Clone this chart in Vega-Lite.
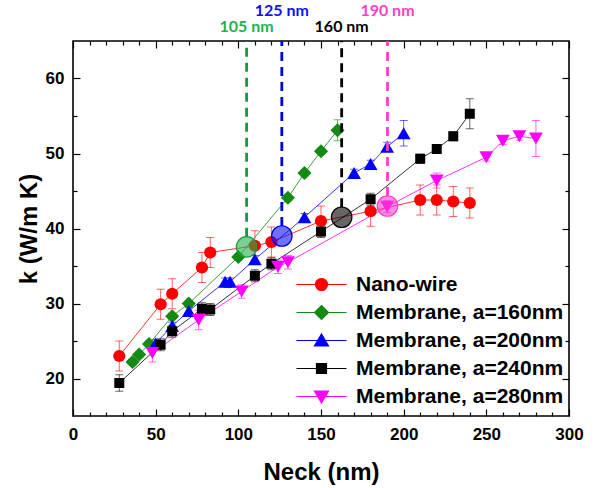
{
"$schema":"https://vega.github.io/schema/vega-lite/v6.json",
"width":496,"height":375,
"autosize":{"type":"none"},
"padding":{"left":73,"top":41,"right":30,"bottom":72},
"background":"white",
"config":{
 "view":{"stroke":"#000","strokeWidth":1.6},
 "font":"Liberation Sans",
 "axis":{"grid":false,"domain":false,"tickColor":"#000","tickWidth":1.2,"labelFont":"Liberation Sans","labelFontSize":17,"labelFontWeight":"bold","labelColor":"#000","titleFont":"Liberation Sans","titleFontSize":24,"titleFontWeight":"bold","titleColor":"#000","labelFlush":false,"labelOverlap":false}
},
"datasets":{
 "pts":[
  {"s":"Nano-wire","x":28,"k":23.0,"e":2.0},
  {"s":"Nano-wire","x":53,"k":29.9,"e":2.0},
  {"s":"Nano-wire","x":60,"k":31.3,"e":2.0},
  {"s":"Nano-wire","x":78,"k":34.8,"e":2.0},
  {"s":"Nano-wire","x":83,"k":36.8,"e":2.0},
  {"s":"Nano-wire","x":110,"k":37.7,"e":2.0},
  {"s":"Nano-wire","x":120,"k":38.2,"e":2.0},
  {"s":"Nano-wire","x":150,"k":41.0,"e":2.0},
  {"s":"Nano-wire","x":180,"k":42.3,"e":2.0},
  {"s":"Nano-wire","x":210,"k":43.8,"e":2.0},
  {"s":"Nano-wire","x":220,"k":43.8,"e":2.0},
  {"s":"Nano-wire","x":230,"k":43.6,"e":2.0},
  {"s":"Nano-wire","x":240,"k":43.4,"e":2.0},
  {"s":"Membrane, a=160nm","x":36,"k":22.2,"e":0.4},
  {"s":"Membrane, a=160nm","x":40,"k":23.2,"e":0.4},
  {"s":"Membrane, a=160nm","x":46,"k":24.6,"e":0.4},
  {"s":"Membrane, a=160nm","x":60,"k":28.3,"e":0.4},
  {"s":"Membrane, a=160nm","x":70,"k":30.0,"e":0.4},
  {"s":"Membrane, a=160nm","x":100,"k":36.2,"e":0.4},
  {"s":"Membrane, a=160nm","x":130,"k":44.1,"e":0.4},
  {"s":"Membrane, a=160nm","x":140,"k":47.4,"e":0.4},
  {"s":"Membrane, a=160nm","x":150,"k":50.3,"e":0.4},
  {"s":"Membrane, a=160nm","x":160,"k":53.1,"e":1.4},
  {"s":"Membrane, a=200nm","x":50,"k":24.7,"e":0.5},
  {"s":"Membrane, a=200nm","x":60,"k":27.0,"e":0.5},
  {"s":"Membrane, a=200nm","x":70,"k":29.0,"e":0.5},
  {"s":"Membrane, a=200nm","x":92,"k":32.9,"e":0.5},
  {"s":"Membrane, a=200nm","x":95,"k":32.9,"e":0.5},
  {"s":"Membrane, a=200nm","x":110,"k":35.9,"e":0.5},
  {"s":"Membrane, a=200nm","x":140,"k":41.5,"e":0.5},
  {"s":"Membrane, a=200nm","x":170,"k":47.4,"e":0.5},
  {"s":"Membrane, a=200nm","x":180,"k":48.6,"e":0.5},
  {"s":"Membrane, a=200nm","x":190,"k":50.9,"e":0.6},
  {"s":"Membrane, a=200nm","x":200,"k":52.7,"e":1.7},
  {"s":"Membrane, a=240nm","x":28,"k":19.4,"e":1.1},
  {"s":"Membrane, a=240nm","x":53,"k":24.5,"e":0.8},
  {"s":"Membrane, a=240nm","x":60,"k":26.3,"e":0.8},
  {"s":"Membrane, a=240nm","x":78,"k":29.3,"e":0.8},
  {"s":"Membrane, a=240nm","x":83,"k":29.2,"e":0.8},
  {"s":"Membrane, a=240nm","x":110,"k":33.7,"e":0.8},
  {"s":"Membrane, a=240nm","x":120,"k":35.3,"e":0.8},
  {"s":"Membrane, a=240nm","x":150,"k":39.6,"e":0.8},
  {"s":"Membrane, a=240nm","x":180,"k":43.9,"e":0.8},
  {"s":"Membrane, a=240nm","x":210,"k":49.3,"e":0.6},
  {"s":"Membrane, a=240nm","x":220,"k":50.6,"e":0.6},
  {"s":"Membrane, a=240nm","x":230,"k":52.3,"e":0.6},
  {"s":"Membrane, a=240nm","x":240,"k":55.3,"e":2.0},
  {"s":"Membrane, a=280nm","x":48,"k":23.4,"e":1.2},
  {"s":"Membrane, a=280nm","x":76,"k":27.8,"e":1.3},
  {"s":"Membrane, a=280nm","x":102,"k":31.6,"e":0.9},
  {"s":"Membrane, a=280nm","x":124,"k":34.9,"e":0.9},
  {"s":"Membrane, a=280nm","x":130,"k":35.5,"e":0.9},
  {"s":"Membrane, a=280nm","x":190,"k":42.9,"e":0.8},
  {"s":"Membrane, a=280nm","x":220,"k":46.4,"e":1.0},
  {"s":"Membrane, a=280nm","x":250,"k":49.5,"e":0.5},
  {"s":"Membrane, a=280nm","x":260,"k":51.7,"e":0.5},
  {"s":"Membrane, a=280nm","x":270,"k":52.3,"e":0.5},
  {"s":"Membrane, a=280nm","x":280,"k":52.0,"e":2.4}
 ],
 "hl":[
  {"key":"105 nm","x":105,"k":37.55,"end":38.9},
  {"key":"125 nm","x":126.3,"k":39.0,"end":40.35},
  {"key":"160 nm","x":162.5,"k":41.5,"end":42.85},
  {"key":"190 nm","x":190.2,"k":43.0,"end":44.35}
 ]
},
"layer":[
 {"data":{"name":"pts"},
  "mark":{"type":"point","filled":true,"opacity":0},
  "encoding":{
   "x":{"field":"x","type":"quantitative","scale":{"domain":[0,300],"nice":false,"zero":false},"axis":null},
   "y":{"field":"k","type":"quantitative","scale":{"domain":[15,65],"nice":false,"zero":false},"axis":null},
   "color":{"field":"s","type":"nominal","scale":{"domain":["Nano-wire","Membrane, a=160nm","Membrane, a=200nm","Membrane, a=240nm","Membrane, a=280nm"],"range":["#ff0000","#138a13","#0000ff","#000000","#ff00ff"]},"legend":{"title":null,"orient":"none","legendX":238,"legendY":233,"symbolSize":100,"symbolStrokeWidth":1.2,"symbolOpacity":1,"labelFont":"Liberation Sans","labelFontSize":21,"labelFontWeight":"bold","labelColor":"#000","labelOffset":24,"rowPadding":6,"padding":0,"labelLimit":400,"encode":{"symbols":{"update":{"stroke":{"scale":"color","field":"value"},"opacity":{"value":1},"strokeWidth":{"value":1.2}}}}}},
   "shape":{"field":"s","type":"nominal","scale":{"domain":["Nano-wire","Membrane, a=160nm","Membrane, a=200nm","Membrane, a=240nm","Membrane, a=280nm"],"range":["M-5,0H5M1.2,0A1.2,1.2,0,1,1,-1.2,0A1.2,1.2,0,1,1,1.2,0Z","M-5,0H5M0,-1.4L1.4,0L0,1.4L-1.4,0Z","M-5,0H5M0,-1.3L1.4,1.1L-1.4,1.1Z","M-5,0H5M-1,-1H1V1H-1Z","M-5,0H5M0,1.3L1.4,-1.1L-1.4,-1.1Z"]},"legend":{"title":null,"orient":"none","legendX":238,"legendY":233,"symbolSize":100,"symbolStrokeWidth":1.2,"symbolOpacity":1,"labelFont":"Liberation Sans","labelFontSize":21,"labelFontWeight":"bold","labelColor":"#000","labelOffset":24,"rowPadding":6,"padding":0,"labelLimit":400}}
  }},
 {"data":{"name":"pts"},
  "mark":{"type":"errorbar","ticks":{"size":8},"rule":{"strokeWidth":1},"opacity":0.6},
  "encoding":{
   "x":{"field":"x","type":"quantitative","axis":null},
   "y":{"field":"k","type":"quantitative","axis":null},
   "yError":{"field":"e"},
   "color":{"field":"s","type":"nominal","legend":null}
  }},
 {"data":{"name":"pts"},
  "mark":{"type":"line","strokeWidth":1,"opacity":0.8},
  "encoding":{
   "x":{"field":"x","type":"quantitative","axis":{"orient":"bottom","values":[10,20,30,40,60,70,80,90,110,120,130,140,160,170,180,190,210,220,230,240,260,270,280,290],"tickSize":-4,"labels":false,"title":null}},
   "y":{"field":"k","type":"quantitative","axis":{"orient":"left","values":[25,35,45,55],"tickSize":-4,"labels":false,"title":null}},
   "color":{"field":"s","type":"nominal","legend":null},
   "order":{"field":"x","type":"quantitative"}
  }},
 {"data":{"name":"pts"},
  "transform":[{"filter":"datum.s === 'Nano-wire'"}],
  "mark":{"type":"point","shape":"circle","size":150,"filled":true,"opacity":1,"strokeWidth":0},
  "encoding":{
   "x":{"field":"x","type":"quantitative","axis":{"orient":"bottom","values":[0,50,100,150,200,250,300],"tickSize":-7,"labelPadding":17.5,"title":"Neck (nm)","titlePadding":18}},
   "y":{"field":"k","type":"quantitative","axis":{"orient":"left","values":[20,30,40,50,60],"tickSize":-7,"labelPadding":16,"title":"k (W/m K)","titlePadding":4}},
   "color":{"field":"s","type":"nominal","legend":null}
  }},
 {"data":{"name":"pts"},
  "transform":[{"filter":"datum.s === 'Membrane, a=160nm'"}],
  "mark":{"type":"point","shape":"diamond","size":200,"filled":true,"opacity":1,"strokeWidth":0},
  "encoding":{
   "x":{"field":"x","type":"quantitative","axis":null},
   "y":{"field":"k","type":"quantitative","axis":null},
   "color":{"field":"s","type":"nominal","legend":null}
  }},
 {"data":{"name":"pts"},
  "transform":[{"filter":"datum.s === 'Membrane, a=200nm'"}],
  "mark":{"type":"point","shape":"triangle-up","size":190,"filled":true,"opacity":1,"strokeWidth":0},
  "encoding":{
   "x":{"field":"x","type":"quantitative","axis":null},
   "y":{"field":"k","type":"quantitative","axis":null},
   "color":{"field":"s","type":"nominal","legend":null}
  }},
 {"data":{"name":"pts"},
  "transform":[{"filter":"datum.s === 'Membrane, a=240nm'"}],
  "mark":{"type":"point","shape":"square","size":100,"filled":true,"opacity":1,"strokeWidth":0},
  "encoding":{
   "x":{"field":"x","type":"quantitative","axis":null},
   "y":{"field":"k","type":"quantitative","axis":null},
   "color":{"field":"s","type":"nominal","legend":null}
  }},
 {"data":{"name":"pts"},
  "transform":[{"filter":"datum.s === 'Membrane, a=280nm'"}],
  "mark":{"type":"point","shape":"triangle-down","size":190,"filled":true,"opacity":1,"strokeWidth":0},
  "encoding":{
   "x":{"field":"x","type":"quantitative","axis":null},
   "y":{"field":"k","type":"quantitative","axis":null},
   "color":{"field":"s","type":"nominal","legend":null}
  }},
 {"data":{"name":"hl"},
  "mark":{"type":"point","shape":"circle","filled":true,"opacity":1,"fillOpacity":0.6,"strokeOpacity":1,"strokeWidth":1.2,"size":420},
  "encoding":{
   "x":{"field":"x","type":"quantitative","axis":{"orient":"top","values":[0,50,100,150,200,250,300],"tickSize":-7,"labels":false,"title":null}},
   "y":{"field":"k","type":"quantitative","axis":{"orient":"right","values":[20,30,40,50,60],"tickSize":-7,"labels":false,"title":null}},
   "fill":{"field":"key","type":"nominal","scale":{"domain":["105 nm","125 nm","160 nm","190 nm"],"range":["#22b14c","#1010ff","#000000","#ff3fc8"]},"legend":null},
   "stroke":{"field":"key","type":"nominal","scale":{"domain":["105 nm","125 nm","160 nm","190 nm"],"range":["#1a9a40","#0000e0","#000000","#ff3fc8"]},"legend":null}
  }},
 {"data":{"name":"hl"},
  "mark":{"type":"rule","strokeWidth":2.8,"strokeDash":[9,6]},
  "encoding":{
   "x":{"field":"x","type":"quantitative","axis":{"orient":"top","values":[10,20,30,40,60,70,80,90,110,120,130,140,160,170,180,190,210,220,230,240,260,270,280,290],"tickSize":-4,"labels":false,"title":null}},
   "y":{"field":"end","type":"quantitative","axis":{"orient":"right","values":[25,35,45,55],"tickSize":-4,"labels":false,"title":null}},
   "y2":{"datum":65},
   "stroke":{"field":"key","type":"nominal","legend":null}
  }},
 {"data":{"name":"hl"},
  "transform":[{"filter":"datum.key === '125 nm' || datum.key === '190 nm'"}],
  "mark":{"type":"text","font":"Lato","fontSize":16,"fontWeight":"bold","align":"center","baseline":"middle"},
  "encoding":{
   "x":{"field":"x","type":"quantitative","axis":null},
   "y":{"datum":68.95,"type":"quantitative","axis":null},
   "text":{"field":"key"},
   "fill":{"field":"key","type":"nominal","legend":null}
  }},
 {"data":{"name":"hl"},
  "transform":[{"filter":"datum.key === '105 nm' || datum.key === '160 nm'"}],
  "mark":{"type":"text","font":"Lato","fontSize":16,"fontWeight":"bold","align":"center","baseline":"middle"},
  "encoding":{
   "x":{"field":"x","type":"quantitative","axis":null},
   "y":{"datum":66.85,"type":"quantitative","axis":null},
   "text":{"field":"key"},
   "fill":{"field":"key","type":"nominal","legend":null}
  }}
],
"resolve":{"axis":{"x":"independent","y":"independent"}}
}
